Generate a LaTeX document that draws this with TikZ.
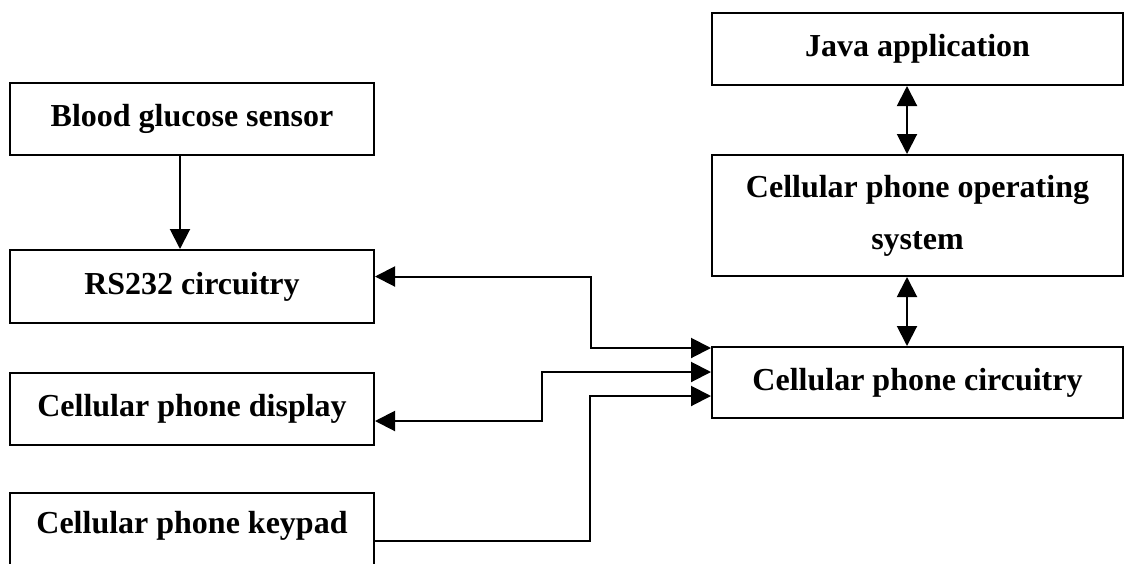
\documentclass[tikz,border=0pt]{standalone}
\usepackage{fontspec}
\setmainfont{Liberation Serif}
\usetikzlibrary{arrows.meta}

\begin{document}
\begin{tikzpicture}[x=1pt,y=-1pt,
  box/.style={draw, line width=2pt, minimum width=364pt, minimum height=72pt, inner sep=0pt,
    font=\fontsize{32}{52}\selectfont\bfseries, align=center},
  rbox/.style={box, minimum width=411pt},
  link/.style={line width=2pt, -{Triangle[length=20pt,width=20pt]}},
  both/.style={line width=2pt, {Triangle[length=20pt,width=20pt]}-{Triangle[length=20pt,width=20pt]}}]
\useasboundingbox (0,0) rectangle (1124,563);

% left column
\node[box] (blood) at (192,119) {Blood glucose sensor};
\node[box, minimum height=73pt] (rs232) at (192,286.5) {RS232 circuitry};
\node[box] (display) at (192,409) {Cellular phone display};
\node[box, anchor=north, minimum height=0pt, text height=40pt, text depth=40pt] (keypad) at (192,492) {Cellular phone keypad};

% right column
\node[rbox] (java) at (917.5,49) {Java application};
\node[rbox, minimum height=121pt] (os) at (917.5,215.5) {Cellular phone operating\\system};
\node[rbox, minimum height=71pt] (circ) at (917.5,382.5) {Cellular phone circuitry};

\coordinate (axis) at (907,0);
\coordinate (bendA) at (591,348);
\coordinate (bendB) at (542,372);
\coordinate (bendC) at (590,396);

\draw[link] ([xshift=-12pt]blood.south) -- ([xshift=-12pt]rs232.north);
\draw[both] (java.south -| axis) -- (os.north -| axis);
\draw[both] (os.south -| axis) -- (circ.north -| axis);

\draw[both] ([yshift=10pt]rs232.east) -| (bendA) -- (bendA -| circ.west);
\draw[both] ([yshift=-12pt]display.east) -| (bendB) -- (bendB -| circ.west);
\draw[link] ([yshift=-8pt]keypad.east) -| (bendC) -- (bendC -| circ.west);
\end{tikzpicture}
\end{document}
